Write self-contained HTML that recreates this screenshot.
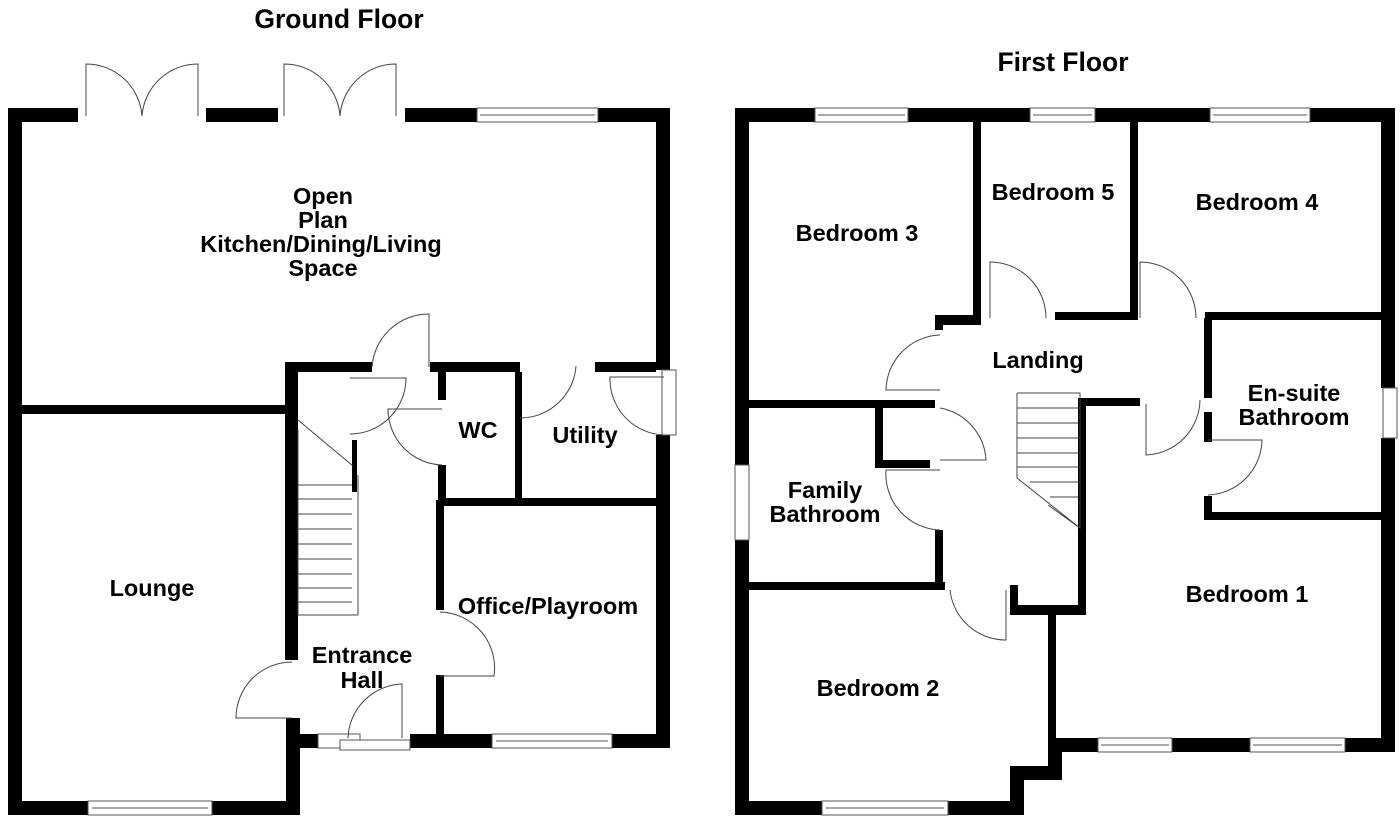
<!DOCTYPE html>
<html><head><meta charset="utf-8"><style>
html,body{margin:0;padding:0;background:#fff;}
svg{display:block}
text{font-family:"Liberation Sans",Arial,sans-serif;font-weight:bold;font-size:23.5px;fill:#000;text-anchor:middle}
.t{font-size:26.5px}
.a{fill:none;stroke:#444;stroke-width:1}
.w{fill:#fff;stroke:#555;stroke-width:1}
</style></head><body>
<svg width="1400" height="824" viewBox="0 0 1400 824">
<g fill="#000">
<rect x="8" y="108" width="14" height="707"/>
<rect x="8" y="108" width="70" height="14"/>
<rect x="206" y="108" width="72" height="14"/>
<rect x="405" y="108" width="72" height="14"/>
<rect x="598" y="108" width="72" height="14"/>
<rect x="656" y="108" width="14" height="262"/>
<rect x="656" y="435" width="14" height="313"/>
<rect x="8" y="801" width="80" height="14"/>
<rect x="212" y="801" width="88" height="14"/>
<rect x="286" y="718" width="14" height="97"/>
<rect x="286" y="734" width="32" height="14"/>
<rect x="410" y="734" width="82" height="14"/>
<rect x="612" y="734" width="58" height="14"/>
<rect x="22" y="405" width="264" height="9"/>
<rect x="285" y="362" width="13" height="298"/>
<rect x="285" y="362" width="87" height="10"/>
<rect x="430" y="362" width="90" height="10"/>
<rect x="595" y="362" width="61" height="10"/>
<rect x="438" y="372" width="8" height="28"/>
<rect x="438" y="465" width="8" height="35"/>
<rect x="515" y="372" width="7" height="128"/>
<rect x="438" y="498" width="218" height="8"/>
<rect x="436" y="500" width="8" height="110"/>
<rect x="436" y="675" width="8" height="60"/>
<rect x="352" y="440" width="5" height="52"/>
<rect x="735" y="108" width="14" height="707"/>
<rect x="735" y="108" width="80" height="14"/>
<rect x="908" y="108" width="122" height="14"/>
<rect x="1095" y="108" width="115" height="14"/>
<rect x="1310" y="108" width="85" height="14"/>
<rect x="1381" y="108" width="14" height="280"/>
<rect x="1381" y="438" width="14" height="314"/>
<rect x="735" y="801" width="87" height="14"/>
<rect x="948" y="801" width="76" height="14"/>
<path d="M1010 805 L1010 766 L1048 766 L1048 738 L1098 738 L1098 752 L1062 752 L1062 780 L1024 780 L1024 815 L1010 815 Z"/>
<rect x="1172" y="738" width="78" height="14"/>
<rect x="1345" y="738" width="50" height="14"/>
<rect x="973" y="122" width="8" height="203"/>
<rect x="935" y="315" width="46" height="10"/>
<rect x="935" y="315" width="8" height="15"/>
<rect x="1055" y="312" width="83" height="8"/>
<rect x="1130" y="122" width="8" height="198"/>
<rect x="1205" y="312" width="176" height="8"/>
<rect x="1204" y="318" width="8" height="80"/>
<rect x="1204" y="412" width="8" height="30"/>
<rect x="1204" y="512" width="177" height="8"/>
<rect x="1204" y="496" width="8" height="20"/>
<rect x="1082" y="398" width="58" height="8"/>
<rect x="1078" y="398" width="8" height="217"/>
<rect x="1010" y="605" width="76" height="10"/>
<rect x="1010" y="585" width="8" height="25"/>
<rect x="1048" y="615" width="8" height="130"/>
<rect x="749" y="400" width="186" height="8"/>
<rect x="875" y="400" width="8" height="68"/>
<rect x="875" y="460" width="55" height="8"/>
<rect x="749" y="582" width="196" height="8"/>
<rect x="935" y="530" width="8" height="60"/>
</g>
<g class="w">
<rect x="477" y="108" width="121" height="14"/><line x1="480" y1="115" x2="595" y2="115"/>
<rect x="88" y="801" width="124" height="14"/><line x1="92" y1="808" x2="208" y2="808"/>
<rect x="492" y="734" width="120" height="14"/><line x1="496" y1="741" x2="608" y2="741"/>
<rect x="318" y="734" width="42" height="14"/>
<rect x="340" y="740" width="70" height="10"/>
<rect x="662" y="370" width="14" height="65"/>
<rect x="815" y="108" width="93" height="14"/><line x1="818" y1="115" x2="905" y2="115"/>
<rect x="1030" y="108" width="65" height="14"/><line x1="1033" y1="115" x2="1092" y2="115"/>
<rect x="1210" y="108" width="100" height="14"/><line x1="1213" y1="115" x2="1307" y2="115"/>
<rect x="1383" y="388" width="14" height="50"/>
<rect x="735" y="465" width="14" height="75"/>
<rect x="822" y="801" width="126" height="14"/><line x1="826" y1="808" x2="944" y2="808"/>
<rect x="1098" y="738" width="74" height="14"/><line x1="1101" y1="745" x2="1169" y2="745"/>
<rect x="1250" y="738" width="95" height="14"/><line x1="1253" y1="745" x2="1342" y2="745"/>
</g>
<g class="a">
<path d="M86 116 L86 64 A56 56 0 0 1 142 116 A56 56 0 0 1 198 64 L198 116"/>
<path d="M284 116 L284 64 A56 56 0 0 1 340 116 A56 56 0 0 1 396 64 L396 116"/>
<path d="M372 367 A57 57 0 0 1 429 314 L429 367"/>
<path d="M350 434 A56 56 0 0 0 406 378 L350 378"/>
<path d="M442 465 A56 56 0 0 1 388 409 L442 409"/>
<path d="M520 418 A56 56 0 0 0 576 366"/>
<path d="M664 435 A56 56 0 0 1 610 377 L664 377"/>
<path d="M292 662 A56 56 0 0 0 236 718 L292 718"/>
<path d="M440 612 A56 56 0 0 1 494 676 L440 676"/>
<path d="M348 738 A56 56 0 0 1 402 684 L402 738"/>
<path d="M298 420 L353 466 M298 430 L298 615 M298 615 L358 615 L358 475"/>
<g>
<line x1="298" y1="485" x2="352" y2="485"/><line x1="298" y1="499" x2="352" y2="499"/><line x1="298" y1="514" x2="352" y2="514"/><line x1="298" y1="529" x2="352" y2="529"/><line x1="298" y1="544" x2="352" y2="544"/><line x1="298" y1="559" x2="352" y2="559"/><line x1="298" y1="574" x2="352" y2="574"/><line x1="298" y1="588" x2="352" y2="588"/><line x1="298" y1="602" x2="352" y2="602"/>
</g>
<path d="M990 318 L990 262 A56 56 0 0 1 1046 318"/>
<path d="M1140 318 L1140 262 A56 56 0 0 1 1196 318"/>
<path d="M940 335 A56 56 0 0 0 886 390 L940 390"/>
<path d="M940 408 A56 56 0 0 1 986 460 L940 460"/>
<path d="M940 530 A56 56 0 0 1 886 470 L940 470"/>
<path d="M1146 404 L1146 455 A56 56 0 0 0 1200 400"/>
<path d="M1208 495 A56 56 0 0 0 1262 440 L1208 440"/>
<path d="M950 590 A56 56 0 0 0 1006 640 L1006 590"/>
<path d="M1017 393 L1080 393 L1080 528 L1048 505 M1017 393 L1017 478 L1080 528"/>
<g>
<line x1="1017" y1="408" x2="1078" y2="408"/><line x1="1017" y1="423" x2="1078" y2="423"/><line x1="1017" y1="438" x2="1078" y2="438"/><line x1="1017" y1="453" x2="1078" y2="453"/><line x1="1017" y1="467" x2="1078" y2="467"/><line x1="1030" y1="482" x2="1078" y2="482"/><line x1="1050" y1="497" x2="1078" y2="497"/>
</g>
</g>
<text class="t" x="339" y="28">Ground Floor</text>
<text class="t" x="1063" y="71">First Floor</text>
<text x="323" y="204">Open</text>
<text x="323" y="228">Plan</text>
<text x="321" y="252">Kitchen/Dining/Living</text>
<text x="323" y="276">Space</text>
<text x="478" y="438">WC</text>
<text x="585" y="443">Utility</text>
<text x="152" y="596">Lounge</text>
<text x="548" y="614">Office/Playroom</text>
<text x="362" y="663">Entrance</text>
<text x="362" y="688">Hall</text>
<text x="857" y="241">Bedroom 3</text>
<text x="1053" y="200">Bedroom 5</text>
<text x="1257" y="210">Bedroom 4</text>
<text x="1038" y="368">Landing</text>
<text x="1294" y="401">En-suite</text>
<text x="1294" y="425">Bathroom</text>
<text x="825" y="498">Family</text>
<text x="825" y="522">Bathroom</text>
<text x="1247" y="602">Bedroom 1</text>
<text x="878" y="696">Bedroom 2</text>
</svg>
</body></html>
